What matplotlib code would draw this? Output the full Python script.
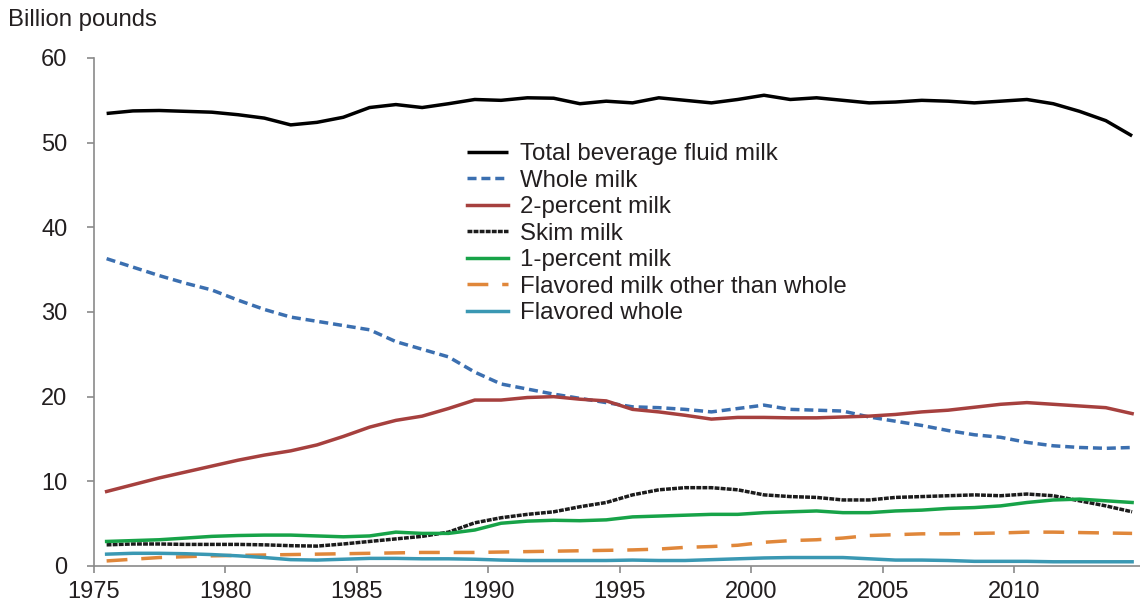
import numpy as np
import matplotlib.pyplot as plt

plt.rcParams['font.family'] = ['Liberation Sans', 'DejaVu Sans']

years = np.arange(1975, 2015)

total = [53.45, 53.75, 53.8, 53.7, 53.6, 53.3, 52.9, 52.1, 52.4, 53.0,
         54.15, 54.5, 54.15, 54.6, 55.1, 55.0, 55.3, 55.25, 54.6, 54.9,
         54.7, 55.3, 55.0, 54.7, 55.1, 55.6, 55.1, 55.3, 55.0, 54.7,
         54.8, 55.0, 54.9, 54.7, 54.9, 55.1, 54.6, 53.7, 52.6, 50.8]
whole = [36.3, 35.3, 34.3, 33.4, 32.6, 31.4, 30.3, 29.4, 28.9, 28.4,
         27.9, 26.5, 25.6, 24.7, 22.9, 21.5, 20.9, 20.3, 19.8, 19.3,
         18.8, 18.7, 18.5, 18.2, 18.6, 19.0, 18.5, 18.4, 18.3, 17.6,
         17.1, 16.6, 16.0, 15.5, 15.2, 14.6, 14.2, 14.0, 13.9, 14.0]
two_pct = [8.8, 9.6, 10.4, 11.1, 11.8, 12.5, 13.1, 13.6, 14.3, 15.3,
           16.4, 17.2, 17.7, 18.6, 19.6, 19.6, 19.9, 20.0, 19.7, 19.5,
           18.5, 18.2, 17.8, 17.35, 17.55, 17.55, 17.5, 17.5, 17.6, 17.7,
           17.9, 18.2, 18.4, 18.75, 19.1, 19.3, 19.1, 18.9, 18.7, 18.0]
skim = [2.5, 2.6, 2.6, 2.55, 2.55, 2.55, 2.5, 2.4, 2.35, 2.6,
        2.9, 3.2, 3.5, 4.0, 5.1, 5.7, 6.1, 6.4, 7.0, 7.5,
        8.4, 9.0, 9.25, 9.25, 9.0, 8.4, 8.2, 8.1, 7.8, 7.8,
        8.1, 8.2, 8.3, 8.4, 8.3, 8.5, 8.3, 7.7, 7.1, 6.4]
one_pct = [2.9, 3.0, 3.1, 3.3, 3.5, 3.6, 3.65, 3.65, 3.55, 3.45,
           3.55, 4.0, 3.85, 3.85, 4.25, 5.05, 5.3, 5.4, 5.35, 5.45,
           5.8, 5.9, 6.0, 6.1, 6.1, 6.3, 6.4, 6.5, 6.3, 6.3,
           6.5, 6.6, 6.8, 6.9, 7.1, 7.5, 7.8, 7.9, 7.7, 7.5]
flav_other = [0.6, 0.8, 1.0, 1.1, 1.2, 1.25, 1.3, 1.35, 1.4, 1.45,
              1.5, 1.55, 1.6, 1.6, 1.6, 1.65, 1.7, 1.75, 1.8, 1.85,
              1.9, 2.0, 2.2, 2.3, 2.45, 2.8, 3.0, 3.1, 3.3, 3.6,
              3.7, 3.8, 3.8, 3.85, 3.9, 4.0, 4.0, 3.95, 3.9, 3.85]
flav_whole = [1.4, 1.5, 1.5, 1.45, 1.35, 1.2, 1.0, 0.75, 0.7, 0.8,
              0.9, 0.9, 0.85, 0.85, 0.8, 0.7, 0.65, 0.65, 0.65, 0.65,
              0.7, 0.65, 0.65, 0.75, 0.85, 0.95, 1.0, 1.0, 1.0, 0.85,
              0.7, 0.7, 0.65, 0.55, 0.55, 0.55, 0.5, 0.5, 0.5, 0.5]

tick_years = [1975, 1980, 1985, 1990, 1995, 2000, 2005, 2010]

fig = plt.figure(figsize=(11.4, 6.04), dpi=100)
ax = fig.add_axes([94 / 1140, 1 - 566 / 604, (1140 - 94) / 1140, (566 - 58) / 604])

lw = 2.5
ax.plot(years, total, color="black", lw=lw, label="Total beverage fluid milk",
        solid_joinstyle="round", solid_capstyle="butt")
ax.plot(years, whole, color="#3b6fb0", lw=lw, dashes=(2.6, 1.4),
        label="Whole milk")
ax.plot(years, two_pct, color="#a6403e", lw=lw, label="2-percent milk")
ax.plot(years, skim, color="#1c1c1c", lw=lw, dashes=(1.4, 0.35),
        label="Skim milk")
ax.plot(years, one_pct, color="#17a348", lw=lw, label="1-percent milk")
ax.plot(years, flav_other, color="#e0873a", lw=lw, dashes=(6, 4),
        label="Flavored milk other than whole")
ax.plot(years, flav_whole, color="#3a98b3", lw=lw, label="Flavored whole")

ax.set_xlim(1974.54, 2014.3)
ax.set_ylim(0, 60)
ax.set_yticks(range(0, 61, 10))
# category axis: ticks sit between the yearly categories
ax.set_xticks([y - 0.48 for y in tick_years])
ax.set_xticklabels([str(y) for y in tick_years])

for s in ["top", "right"]:
    ax.spines[s].set_visible(False)
for s in ["left", "bottom"]:
    ax.spines[s].set_color("#8a8a8a")
    ax.spines[s].set_linewidth(1.2)

ax.tick_params(axis="y", direction="out", length=5, width=1.2, color="#8a8a8a",
               pad=14, labelsize=17, labelcolor="#231f20")
ax.tick_params(axis="x", direction="out", length=5, width=1.2, color="#8a8a8a",
               pad=6, labelsize=17, labelcolor="#231f20")

fig.text(8 / 1140, 1 - 20 / 604, "Billion pounds", fontsize=17.2,
         color="#231f20", ha="left", va="center")

ax.legend(loc="upper left", bbox_to_anchor=(467 / 1140, 1 - 143 / 604),
          bbox_transform=fig.transFigure, frameon=False, fontsize=17.3,
          borderaxespad=0, borderpad=0, handlelength=1.7, handletextpad=0.5,
          labelspacing=0.19, labelcolor="#231f20")

fig.savefig("out.png", dpi=100)
